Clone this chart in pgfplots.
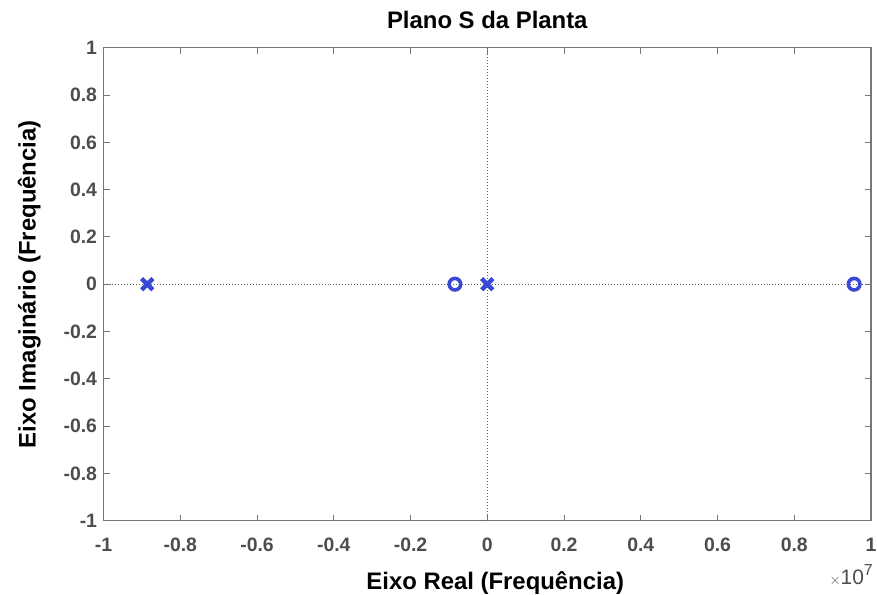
\documentclass[border=0pt]{standalone}
\usepackage{pgfplots}
\pgfplotsset{compat=1.18}
\usepackage{fontspec}
\setmainfont{Liberation Sans}
\usetikzlibrary{calc}

\definecolor{pzblue}{RGB}{58,72,214}
\definecolor{axgray}{RGB}{120,120,120}
\definecolor{ticktext}{RGB}{77,77,77}

\begin{document}
\begin{tikzpicture}
\begin{axis}[
  scale only axis,
  width=771pt, height=475pt,
  xmin=-10000000, xmax=10000000,
  ymin=-1, ymax=1,
  xtick={-10000000,-8000000,-6000000,-4000000,-2000000,0,2000000,4000000,6000000,8000000,10000000},
  ytick={-1,-0.8,-0.6,-0.4,-0.2,0,0.2,0.4,0.6,0.8,1},
  scaled x ticks=manual:{}{\pgfmathparse{#1/10000000}},
  scaled y ticks=false,
  axis line style={axgray, line width=1.2pt},
  tick style={axgray, line width=1pt},
  major tick length=6pt,
  tick align=inside,
  xtick pos=both, ytick pos=both,
  /pgf/number format/assume math mode=true,
  /pgf/number format/fixed,
  /pgf/number format/precision=1,
  tick label style={font=\fontsize{19.5}{22}\selectfont\bfseries, text=ticktext},
  xticklabel style={yshift=-14pt},
  yticklabel style={xshift=-3pt},
  title={\fontsize{24}{28}\selectfont\bfseries Plano S da Planta},
  title style={yshift=10pt},
  xlabel={\fontsize{24}{28}\selectfont\bfseries Eixo Real (Frequência)},
  ylabel={\fontsize{24}{28}\selectfont\bfseries Eixo Imaginário (Frequência)},
  xlabel style={yshift=-13pt, xshift=8pt},
  ylabel style={yshift=16pt},
  clip=false,
]
% stability axes through the origin
\addplot[axgray!80!black, dotted, line width=1pt] coordinates {(-10000000,0) (10000000,0)};
\addplot[axgray!80!black, dotted, line width=1pt] coordinates {(0,-1) (0,1)};
% poles
\addplot[only marks, mark=x, mark size=8pt, pzblue,
  mark options={line width=4.5pt, line cap=butt}] coordinates {
  (-8860000,0) (0,0)
};
% zeros
\addplot[only marks, mark=o, mark size=5.8pt, pzblue,
  mark options={line width=3.6pt}] coordinates {
  (-843000,0) (9560000,0)
};
\node[anchor=north east, text=ticktext, inner sep=0pt] at ($(rel axis cs:1,0)+(2pt,-44pt)$)
  {{\fontsize{15}{16}\selectfont$\times$}\fontsize{21}{24}\selectfont 10\raisebox{9pt}{\fontsize{16}{17}\selectfont 7}};
\end{axis}
\pgfresetboundingbox
\useasboundingbox ($(current axis.south west)+(-104pt,-74pt)$) rectangle ($(current axis.north east)+(6pt,48pt)$);
\end{tikzpicture}
\end{document}
